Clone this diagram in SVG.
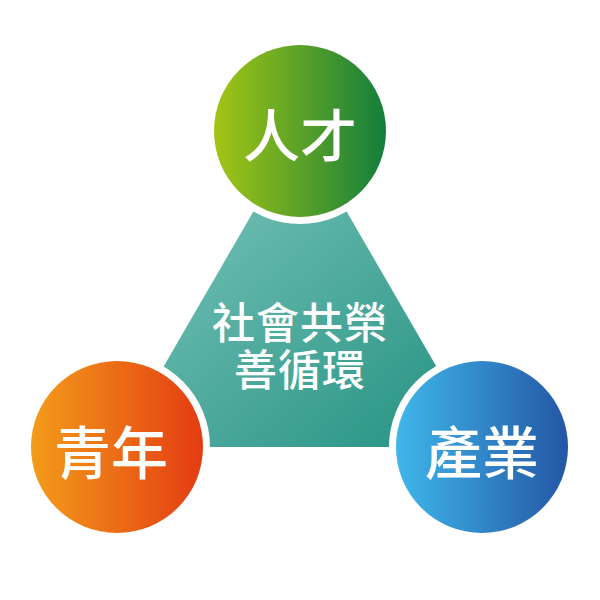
<svg xmlns="http://www.w3.org/2000/svg" width="600" height="600" viewBox="0 0 600 600">
  <defs>
    <linearGradient id="gTri" x1="0" y1="0" x2="1" y2="1">
      <stop offset="0" stop-color="#86cbc2"/>
      <stop offset="1" stop-color="#21907f"/>
    </linearGradient>
    <linearGradient id="gGreen" x1="0" y1="0" x2="1" y2="0">
      <stop offset="0" stop-color="#a3c514"/>
      <stop offset="1" stop-color="#137e3c"/>
    </linearGradient>
    <linearGradient id="gOrange" x1="0" y1="0" x2="1" y2="0">
      <stop offset="0" stop-color="#f39c1a"/>
      <stop offset="1" stop-color="#e43c12"/>
    </linearGradient>
    <linearGradient id="gBlue" x1="0" y1="0" x2="1" y2="0">
      <stop offset="0" stop-color="#3fb7ea"/>
      <stop offset="1" stop-color="#2456a5"/>
    </linearGradient>
    <style>
      .ring { fill: #ffffff; }
      .lbl { fill: #ffffff; font-family: "Noto Sans CJK TC", "Noto Sans CJK SC", sans-serif; font-weight: 500; text-anchor: middle; dominant-baseline: central; }
      .big { font-size: 57px; }
      .mid { font-size: 43px; letter-spacing: 1px; }
    </style>
  </defs>
  <rect width="600" height="600" fill="#ffffff"/>

  <g id="center">
    <polygon points="300,131 483,447 117,447" fill="url(#gTri)"/>
    <text class="lbl mid" x="300" y="320"><tspan x="300" y="320">社會共榮</tspan><tspan x="300" y="367">善循環</tspan></text>
  </g>

  <g id="connectors"></g>

  <g id="node-talent">
    <circle class="ring" cx="300" cy="131" r="93"/>
    <circle cx="300" cy="131" r="86" fill="url(#gGreen)"/>
    <text class="lbl big" x="300" y="132">人才</text>
  </g>

  <g id="node-youth">
    <circle class="ring" cx="117" cy="447" r="93"/>
    <circle cx="117" cy="447" r="86" fill="url(#gOrange)"/>
    <text class="lbl big" x="111" y="449">青年</text>
  </g>

  <g id="node-industry">
    <circle class="ring" cx="482" cy="447" r="93"/>
    <circle cx="482" cy="447" r="86" fill="url(#gBlue)"/>
    <text class="lbl big" x="482" y="449">產業</text>
  </g>
</svg>
